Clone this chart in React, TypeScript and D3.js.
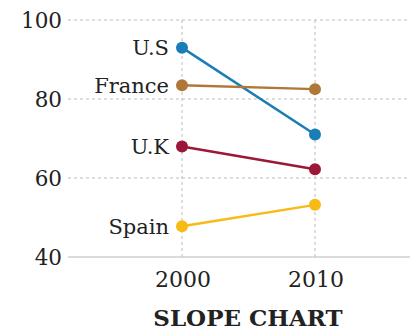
import React from "react";
import * as d3 from "d3";

const years = [2000, 2010];
const countries = ["U.S", "France", "U.K", "Spain"];
const values2000 = [93, 83.5, 68, 47.8];
const values2010 = [71, 82.5, 62.2, 53.2];
const colors = ["#1b7db6", "#b07838", "#9c1738", "#f6bb14"];
const yTicks = [40, 60, 80, 100];
const title = "SLOPE CHART";

const W = 411;
const H = 331;

export default function App() {
  const x = d3.scaleLinear().domain([2000, 2010]).range([182, 315]);
  const y = d3.scaleLinear().domain([40, 100]).range([257, 20]);
  const left = 68;
  const right = 410;
  const font = "'DejaVu Serif', serif";
  const line = d3
    .line<[number, number]>()
    .x((d) => x(d[0]))
    .y((d) => y(d[1]));

  return (
    <svg
      width={W}
      height={H}
      style={{ position: "absolute", left: 0, top: 0, background: "#fff" }}
      fontFamily={font}
    >
      {yTicks.map((t) =>
        t === 40 ? (
          <line key={t} x1={left} x2={right} y1={y(t)} y2={y(t)} stroke="#cfcfcf" strokeWidth={1.5} />
        ) : (
          <line
            key={t}
            x1={left}
            x2={right}
            y1={y(t)}
            y2={y(t)}
            stroke="#bdbdbd"
            strokeWidth={1}
            strokeDasharray="3,3"
          />
        )
      )}
      {years.map((yr) => (
        <line
          key={yr}
          x1={x(yr)}
          x2={x(yr)}
          y1={y(100)}
          y2={y(40)}
          stroke="#bdbdbd"
          strokeWidth={1}
          strokeDasharray="3,3"
        />
      ))}
      {yTicks.map((t) => (
        <text
          key={t}
          x={62}
          y={y(t)}
          dy="0.36em"
          textAnchor="end"
          fontSize={21.5}
          fill="#222"
        >
          {t}
        </text>
      ))}
      {years.map((yr) => (
        <text key={yr} x={x(yr) + 1} y={287} textAnchor="middle" fontSize={22} fill="#222">
          {yr}
        </text>
      ))}
      {countries.map((c, i) => {
        const pts: [number, number][] = [
          [years[0], values2000[i]],
          [years[1], values2010[i]],
        ];
        return (
          <g key={c}>
            <path d={line(pts) || ""} fill="none" stroke={colors[i]} strokeWidth={2.5} />
            {pts.map((p, j) => (
              <circle key={j} cx={x(p[0])} cy={y(p[1])} r={6} fill={colors[i]} />
            ))}
            <text
              x={x(years[0]) - 13}
              y={y(values2000[i])}
              dy="0.36em"
              textAnchor="end"
              fontSize={21}
              fill="#222"
            >
              {c}
            </text>
          </g>
        );
      })}
      <text x={248} y={326} textAnchor="middle" fontSize={23} fontWeight="bold" fill="#222">
        {title}
      </text>
    </svg>
  );
}
